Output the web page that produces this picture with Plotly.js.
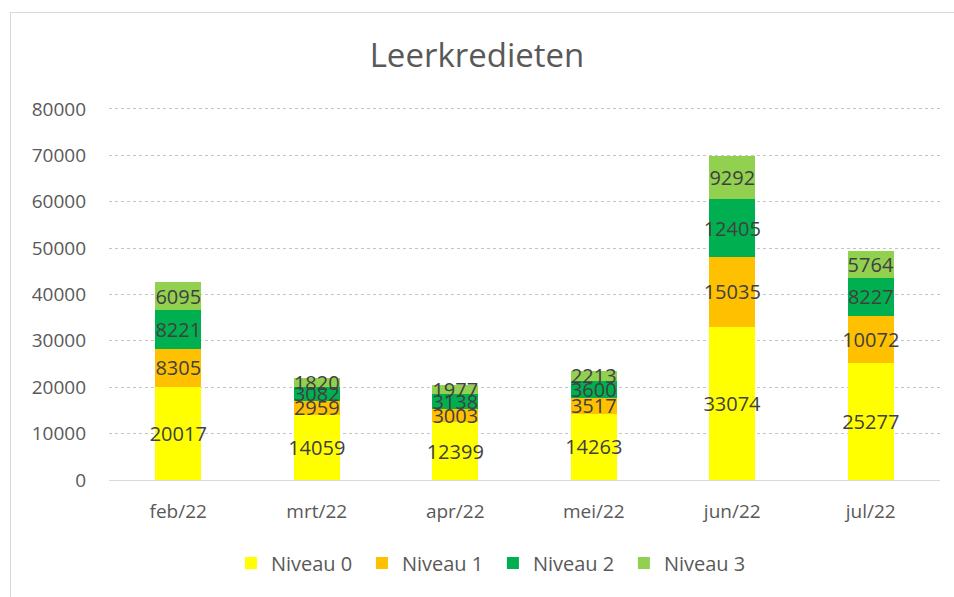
<!DOCTYPE html>
<html><head><meta charset="utf-8">
<script src="https://cdn.plot.ly/plotly-3.0.1.min.js"></script>
<style>
html,body{margin:0;padding:0;background:#fff;}
#wrap{position:relative;width:954px;height:597px;overflow:hidden;}
#frame{position:absolute;left:10px;top:12px;width:950px;height:600px;border:1px solid #d9d9d9;box-sizing:border-box;pointer-events:none;}
#chart{position:absolute;left:0;top:0;width:954px;height:597px;}
</style></head>
<body><div id="wrap"><div id="chart"></div><div id="frame"></div></div>
<script>
const categories = ['feb/22','mrt/22','apr/22','mei/22','jun/22','jul/22'];
const niveau0 = [20017, 14059, 12399, 14263, 33074, 25277];
const niveau1 = [8305, 2959, 3003, 3517, 15035, 10072];
const niveau2 = [8221, 3082, 3138, 3600, 12405, 8227];
const niveau3 = [6095, 1820, 1977, 2213, 9292, 5764];
const seriesNames = ['Niveau 0','Niveau 1','Niveau 2','Niveau 3'];
const colors = ['#FFFF00','#FFC000','#00B050','#92D050'];
const yTicks = [0,10000,20000,30000,40000,50000,60000,70000,80000];

const FONT = '"Open Sans", "Noto Sans", sans-serif';
const all = [niveau0, niveau1, niveau2, niveau3];
const traces = all.map((vals, i) => ({
  type: 'bar', x: categories, y: vals, name: seriesNames[i],
  marker: {color: colors[i]},
  text: vals.map(String), textposition: 'inside', insidetextanchor: 'middle',
  textangle: 0, constraintext: 'none',
  textfont: {family: FONT, size: 20, color: '#404040'},
  hoverinfo: 'none'
}));

const layout = {
  width: 954, height: 597,
  margin: {l: 109, r: 14, t: 107, b: 117},
  paper_bgcolor: '#fff', plot_bgcolor: '#fff',
  barmode: 'stack', bargap: 0.67,
  uniformtext: {minsize: 20, mode: 'show'},
  title: {text: 'Leerkredieten', x: 0.5, xanchor: 'center', y: 0.907, yanchor: 'middle',
          font: {family: FONT, size: 33, color: '#595959'}},
  font: {family: FONT, color: '#595959'},
  xaxis: {tickfont: {size: 19, color: '#595959'}, showgrid: false, showline: true,
          linecolor: '#d9d9d9', linewidth: 1, ticks: '', ticklabelstandoff: 14, fixedrange: true},
  yaxis: {range: [0, 80400], tickvals: yTicks, ticktext: yTicks.map(String),
          tickfont: {size: 19, color: '#595959'}, showgrid: true, gridcolor: '#c4c4c4',
          griddash: 'dot', gridwidth: 1, zeroline: false, showline: false, ticks: '',
          ticklabelstandoff: 22, fixedrange: true},
  legend: {orientation: 'h', x: 0.462, xanchor: 'center', y: -0.17, yanchor: 'top',
           font: {size: 20, color: '#595959'}, traceorder: 'normal', itemwidth: 30,
           entrywidth: 86, entrywidthmode: 'pixels'},
  showlegend: true
};
Plotly.newPlot('chart', traces, layout, {displayModeBar: false, staticPlot: true});
</script></body></html>
